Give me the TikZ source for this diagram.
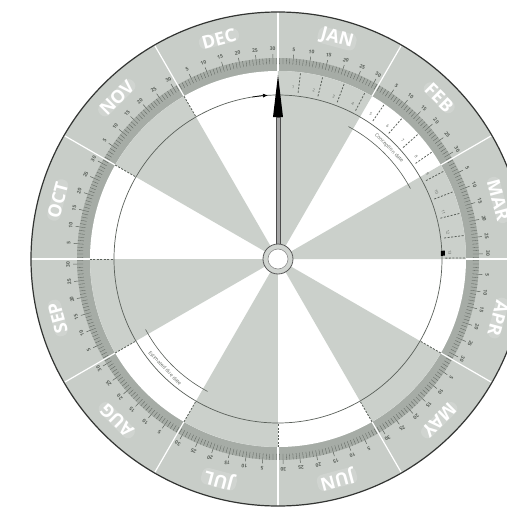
\documentclass[tikz,border=0pt]{standalone}
\usepackage{fontspec}
\setmainfont{Open Sans}
\usetikzlibrary{arrows.meta}
\definecolor{ringgray}{RGB}{200,205,200}
\definecolor{bandgray}{RGB}{166,172,166}
\definecolor{sectorgray}{RGB}{203,208,203}
\definecolor{blobgray}{RGB}{208,212,208}
\definecolor{markgray}{RGB}{90,96,90}
\definecolor{rimgray}{RGB}{50,52,50}

\tikzset{
  monthlbl/.style={fill=blobgray, rounded corners=6pt, text=white, inner xsep=3pt, inner ysep=0pt, font=\bfseries\fontsize{18}{18}\selectfont},
  daynum/.style={text=markgray, inner sep=0pt, font=\bfseries\fontsize{5}{5}\selectfont},
  wknum/.style={text=markgray, inner sep=0pt, font=\fontsize{4}{4}\selectfont},
  arclbl/.style={text=markgray, inner sep=0pt, font=\fontsize{5}{5}\selectfont},
  weektick/.style={markgray, line width=0.8pt, dash pattern=on 2pt off 1.5pt},
}

\begin{document}
\begin{tikzpicture}[x=1pt,y=1pt]
  \useasboundingbox (-278,-248) rectangle (229,259);
  \fill[white] (-278,-248) rectangle (229,259);
  \clip (-278,-248) rectangle (229,259);
  % dial body
  \fill[ringgray] (0,0) circle (247pt);
  \fill[bandgray] (0,0) circle (201pt);
  \fill[white] (0,0) circle (188pt);
  \foreach \a in {0,60,...,300}
    \fill[sectorgray] (0,0) -- (\a:188pt) arc (\a:\a+30:188pt) -- cycle;
  % months and day scale
  \foreach \m [count=\i from 0] in {JAN,FEB,MAR,APR,MAY,JUN,JUL,AUG,SEP,OCT,NOV,DEC} {
    \pgfmathsetmacro\a{90-30*\i}
    \node[monthlbl, rotate=\a-105] (m\i) at (\a-15:228pt) {\m};
    \foreach \d in {1,...,31} {
      \pgfmathsetmacro\b{\a-(\d-0.5)*30/31}
      \draw[markgray, line width=0.3pt] (\b:195pt) -- (\b:201pt);
    }
    \foreach \d in {5,10,...,30} {
      \pgfmathsetmacro\b{\a-(\d-0.5)*30/31}
      \draw[markgray, line width=0.5pt] (\b:201pt) -- (\b:205pt);
      \node[daynum, rotate=\b-90] (d\i-\d) at (\b:210pt) {\d};
    }
    \draw[white, line width=1.2pt] (\a:188pt) -- (\a:247pt);
  }
  % week ticks on the disc
  \foreach \k in {1,...,13} {
    \pgfmathsetmacro\b{90-6.9*\k}
    \draw[weektick] (\b:187pt) -- (\b:167pt);
    \node[wknum, rotate=\b-90] (w\k) at (\b+1.8:172pt) {\k};
  }
  \foreach \a in {120,150,...,330}
    \draw[weektick] (\a:188pt) -- (\a:164pt);
  \draw[markgray, line width=0.7pt] (0,0) circle (164pt);
  \draw[markgray, line width=0.6pt] (28:150pt) arc (28:62:150pt);
  \draw[markgray, line width=0.6pt] (208:150pt) arc (208:242:150pt);
  \node[arclbl, rotate=-45] (conc) at (45:157pt) {Conception date};
  \node[arclbl, rotate=-46] (due) at (224:157pt) {Estimated due date};
  \draw[black, line width=0.7pt, -{Latex[length=5pt,width=4pt]}] (99:164pt) arc (99:93.5:164pt);
  \fill[black, rotate=2] (163,-2.5) rectangle (167,2.5);
  % pointer and hub
  \fill[black] (-5,142) -- (0,184) -- (5,142) -- cycle;
  \filldraw[fill=gray!70, draw=black!70, line width=0.5pt] (-2.2,14) rectangle (2.2,142);
  \filldraw[fill=blobgray, draw=black!65, line width=0.8pt] (0,0) circle (15pt);
  \filldraw[fill=white, draw=black!45, line width=0.6pt] (0,0) circle (10pt);
  \draw[rimgray, line width=1.2pt] (0,0) circle (247pt);
\end{tikzpicture}
\end{document}
